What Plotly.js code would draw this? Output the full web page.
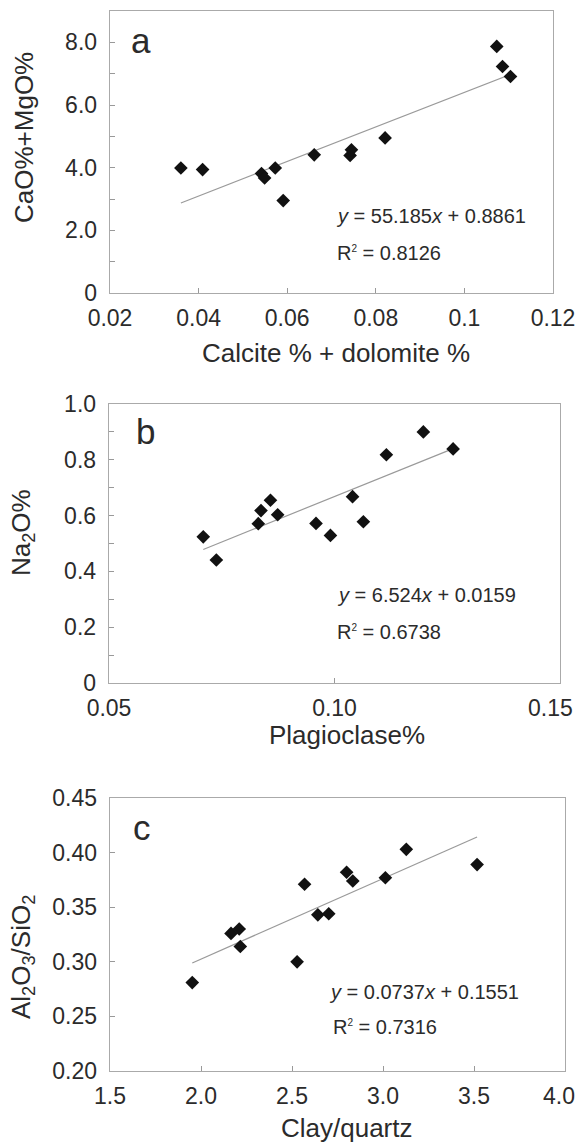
<!DOCTYPE html>
<html><head><meta charset="utf-8">
<script src="https://cdn.plot.ly/plotly-3.0.1.min.js"></script>
<style>html,body{margin:0;padding:0;background:#fff}#chart{width:579px;height:1142px}</style>
</head><body><div id="chart"></div>
<script>
// ---- data ----
const aX = [0.0360,0.0409,0.0542,0.0549,0.0573,0.0591,0.0661,0.0742,0.0745,0.0821,0.1073,0.1086,0.1104];
const aY = [3.99,3.94,3.81,3.67,3.99,2.95,4.41,4.39,4.57,4.95,7.87,7.23,6.91];
const bX = [0.0709,0.0738,0.0831,0.0837,0.0858,0.0874,0.0959,0.0991,0.1040,0.1064,0.1115,0.1197,0.1263];
const bY = [0.524,0.441,0.571,0.618,0.655,0.603,0.572,0.529,0.668,0.578,0.818,0.900,0.839];
const cX = [1.952,2.165,2.210,2.216,2.528,2.569,2.642,2.702,2.800,2.834,3.013,3.128,3.517];
const cY = [0.281,0.326,0.330,0.314,0.300,0.371,0.343,0.344,0.382,0.374,0.377,0.403,0.389];
const slopes = [55.185, 6.524, 0.0737];
const intercepts = [0.8861, 0.0159, 0.1551];
const r2 = ["0.8126","0.6738","0.7316"];
const panelLetters = ["a","b","c"];
const xTitles = ["Calcite % + dolomite %","Plagioclase%","Clay/quartz"];
const yTitles = ["CaO%+MgO%","Na<sub>2</sub>O%","Al<sub>2</sub>O<sub>3</sub>/SiO<sub>2</sub>"];
const aXTicks = [0.02,0.04,0.06,0.08,0.1,0.12], aXText = ["0.02","0.04","0.06","0.08","0.1","0.12"];
const aYTicks = [0,2,4,6,8], aYText = ["0","2.0","4.0","6.0","8.0"];
const bXTicks = [0.05,0.10,0.15], bXText = ["0.05","0.10","0.15"];
const bYTicks = [0,0.2,0.4,0.6,0.8,1.0], bYText = ["0","0.2","0.4","0.6","0.8","1.0"];
const cXTicks = [1.5,2.0,2.5,3.0,3.5,4.0], cXText = ["1.5","2.0","2.5","3.0","3.5","4.0"];
const cYTicks = [0.20,0.25,0.30,0.35,0.40,0.45], cYText = ["0.20","0.25","0.30","0.35","0.40","0.45"];

// ---- layout helpers ----
const W = 579, H = 1142;
const px = v => v / W;
const py = v => 1 - v / H;
const FONT = 'Liberation Sans, Arial, Helvetica, sans-serif';
const TXT = '#2b2b2b';
// the last x label of b and c is drawn as an annotation (kept inside the page)
const dropLast = arr => arr.map((t,i) => i === arr.length-1 ? '' : t);

const xs = [aX,bX,cX], ys=[aY,bY,cY];
const traces = [];
for (let i=0;i<3;i++){
  const sfx = i===0 ? '' : String(i+1);
  const xmin = Math.min(...xs[i]), xmax = Math.max(...xs[i]);
  traces.push({
    type:'scatter', mode:'lines', x:[xmin,xmax],
    y:[slopes[i]*xmin+intercepts[i], slopes[i]*xmax+intercepts[i]],
    xaxis:'x'+sfx, yaxis:'y'+sfx, line:{color:'#9a9a9a',width:1.2}, hoverinfo:'skip'
  });
  traces.push({
    type:'scatter', mode:'markers', x:xs[i], y:ys[i],
    xaxis:'x'+sfx, yaxis:'y'+sfx,
    marker:{symbol:'diamond', size:10.5, color:'#111'}
  });
}

function axis(domain, range, tv, tt, anchor, minorDtick, isX){
  const ax = {
    domain: domain, range: range, anchor: anchor,
    tickmode:'array', tickvals: tv, ticktext: tt,
    ticks:'inside', ticklen:5, tickwidth:1, tickcolor:'#999',
    showline:true, mirror:true, linecolor:'#aaa', linewidth:1.3,
    showgrid:false, zeroline:false,
    tickfont:{family:FONT, size:23, color:TXT},
    ticklabelstandoff: isX ? 4 : 7, ticklabeloverflow:'allow', fixedrange:true
  };
  if (minorDtick) ax.minor = {dtick:minorDtick, ticks:'inside', ticklen:5, tickcolor:'#999', showgrid:false};
  return ax;
}

const layout = {
  width: W, height: H,
  margin:{l:0,r:0,t:0,b:0},
  paper_bgcolor:'#fff', plot_bgcolor:'#fff',
  showlegend:false,
  font:{family:FONT, color:TXT},
  xaxis:  axis([px(110),px(553)], [0.02,0.12], aXTicks, aXText, 'y', null, true),
  yaxis:  axis([py(293),py(11)], [0,9], aYTicks, aYText, 'x', 1),
  xaxis2: axis([px(109),px(560)], [0.05,0.15], bXTicks, dropLast(bXText), 'y2', null, true),
  yaxis2: axis([py(683),py(404)], [0,1.0], bYTicks, bYText, 'x2', 0.1),
  xaxis3: axis([px(110),px(565)], [1.5,4.0], cXTicks, dropLast(cXText), 'y3', null, true),
  yaxis3: axis([py(1071),py(798)], [0.20,0.45], cYTicks, cYText, 'x3'),
  annotations: []
};

const ann = (text, x, y, size, opts) => Object.assign({
  text: text, x: px(x), y: py(y), xref:'paper', yref:'paper',
  showarrow:false, font:{family:FONT, size:size, color:TXT},
  xanchor:'center', yanchor:'middle'
}, opts||{});

// last tick labels (b and c), anchored at their tick value, kept inside page
layout.annotations.push({
  text: bXText[bXText.length-1], x: bXTicks[bXTicks.length-1], xref:'x2',
  y: py(708), yref:'paper', xanchor:'right', xshift:15, yanchor:'middle',
  showarrow:false, font:{family:FONT, size:23, color:TXT}
});
layout.annotations.push({
  text: cXText[cXText.length-1], x: cXTicks[cXTicks.length-1], xref:'x3',
  y: py(1096), yref:'paper', xanchor:'right', xshift:12, yanchor:'middle',
  showarrow:false, font:{family:FONT, size:23, color:TXT}
});

const letterPos = [[141,41],[145,431],[142,827]];
const eqPos = [[334,216],[335,595],[327,992]];
const r2Pos = [[335,253],[335,632],[331,1027]];
const xtPos = [[336,353],[347,735],[347,1128]];
const ytPos = [[24,138],[22,533],[22,957]];
for (let i=0;i<3;i++){
  layout.annotations.push(ann(panelLetters[i], letterPos[i][0], letterPos[i][1], 35));
  layout.annotations.push(ann('<i>y</i> = '+slopes[i]+'<i>x</i> + '+intercepts[i].toFixed(4), eqPos[i][0], eqPos[i][1], 20, {xanchor:'left'}));
  layout.annotations.push(ann('R<sup><span style="font-size:10px">2</span></sup> = '+r2[i], r2Pos[i][0], r2Pos[i][1], 20, {xanchor:'left'}));
  layout.annotations.push(ann(xTitles[i], xtPos[i][0], xtPos[i][1], 26));
  layout.annotations.push(ann(yTitles[i], ytPos[i][0], ytPos[i][1], 26, {textangle:-90}));
}

Plotly.newPlot('chart', traces, layout, {displayModeBar:false, staticPlot:true});
</script></body></html>
